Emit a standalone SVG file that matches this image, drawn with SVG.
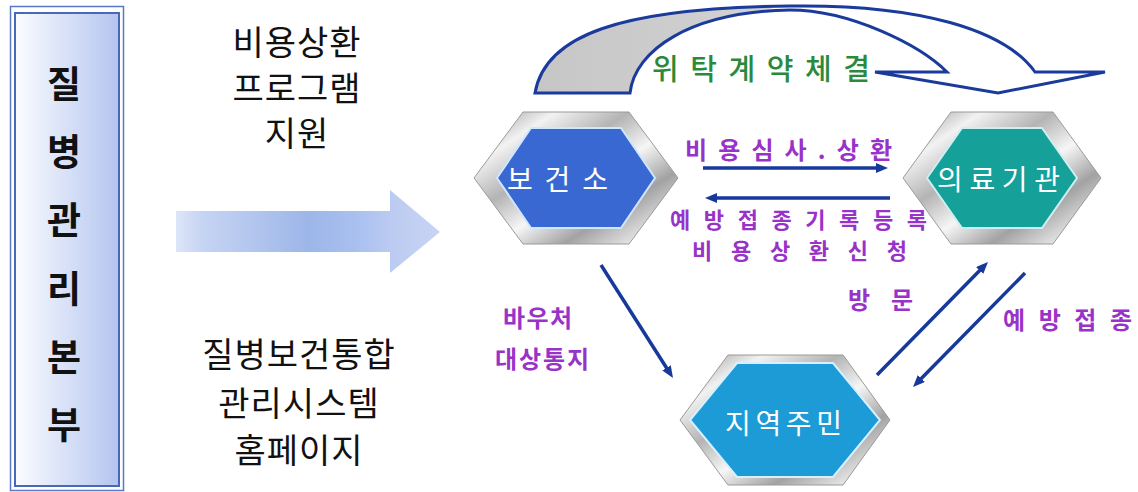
<svg xmlns="http://www.w3.org/2000/svg" width="1138" height="492" viewBox="0 0 1138 492">
<defs>
<linearGradient id="boxg" x1="0" y1="0" x2="1" y2="0">
<stop offset="0" stop-color="#fbfcff"/>
<stop offset="1" stop-color="#b3c5ef"/>
</linearGradient>
<linearGradient id="bigarrow" gradientUnits="userSpaceOnUse" x1="176" y1="0" x2="440" y2="0">
<stop offset="0" stop-color="#dde6f8"/>
<stop offset="0.1" stop-color="#c6d4f3"/>
<stop offset="0.5" stop-color="#9db6e9"/>
<stop offset="0.68" stop-color="#a9c0ef"/>
<stop offset="0.82" stop-color="#bccbf1"/>
<stop offset="1" stop-color="#c8d4f4"/>
</linearGradient>
<linearGradient id="curveg" gradientUnits="userSpaceOnUse" x1="535" y1="0" x2="1105" y2="0">
<stop offset="0" stop-color="#c6c6c6"/>
<stop offset="0.41" stop-color="#d2d2d2"/>
<stop offset="0.42" stop-color="#ffffff"/>
<stop offset="1" stop-color="#ffffff"/>
</linearGradient>
<linearGradient id="metal" x1="0" y1="0" x2="1" y2="1">
<stop offset="0" stop-color="#8e8e8e"/>
<stop offset="0.2" stop-color="#f2f2f2"/>
<stop offset="0.38" stop-color="#b4b4b4"/>
<stop offset="0.55" stop-color="#f6f6f6"/>
<stop offset="0.72" stop-color="#a2a2a2"/>
<stop offset="0.88" stop-color="#e4e4e4"/>
<stop offset="1" stop-color="#8a8a8a"/>
</linearGradient>
<marker id="ah" viewBox="0 0 12 10" refX="4" refY="5" markerWidth="12" markerHeight="10" markerUnits="userSpaceOnUse" orient="auto">
<path d="M0,0 L12,5 L0,10 Z" fill="#17399c"/>
</marker>
<style>
.kr{font-family:"Noto Sans CJK KR","Noto Sans",sans-serif;}
.side{font-size:37px;font-weight:700;fill:#111;text-anchor:middle;}
.big{font-size:34px;font-weight:400;fill:#111;text-anchor:middle;letter-spacing:1px;}
.lbl{font-size:24px;font-weight:700;fill:#9932c8;}
.node{font-size:28px;font-weight:400;fill:#ffffff;}
.conn{stroke:#17399c;stroke-width:3.5;fill:none;marker-end:url(#ah);}
.bezel{fill:url(#metal);stroke:#9a9a9a;stroke-width:1;}
</style>
</defs>
<rect width="1138" height="492" fill="#ffffff"/>

<g id="hq">
<rect x="10.5" y="6.5" width="113" height="484" fill="none" stroke="#5a78c8" stroke-width="1.5"/>
<rect x="15" y="13" width="104" height="473" fill="url(#boxg)" stroke="#4a68b8" stroke-width="2"/>
<g class="kr side" dominant-baseline="central">
<text x="64" y="82">질</text>
<text x="64" y="150">병</text>
<text x="64" y="218">관</text>
<text x="64" y="287">리</text>
<text x="64" y="355">본</text>
<text x="64" y="423">부</text>
</g>
</g>

<g id="program-label" class="kr big" dominant-baseline="central">
<text x="297" y="40">비용상환</text>
<text x="297" y="86">프로그램</text>
<text x="297" y="131">지원</text>
</g>

<g id="system-label" class="kr big" dominant-baseline="central">
<text x="299" y="352">질병보건통합</text>
<text x="299" y="401">관리시스템</text>
<text x="299" y="448">홈페이지</text>
</g>

<g id="big-arrow">
<path d="M176,211 L390,211 L390,190 L440,232 L390,273 L390,252 L176,252 Z" fill="url(#bigarrow)"/>
</g>

<g id="contract-arrow">
<path d="M535,93 C545,35 620,8 790,6 C920,4 1005,30 1035,72 L1105,72 L998,93 L875,72 L947,72 C920,45 850,10 790,10 C690,12 635,50 630,93 Z" fill="url(#curveg)" stroke="#1a3a9c" stroke-width="3" stroke-linejoin="miter"/>
<text class="kr" x="652" y="67" dominant-baseline="central" font-size="29" font-weight="500" fill="#2a8a3a" textLength="218" lengthAdjust="spacing">위탁계약체결</text>
</g>

<g id="bogeonso">
<polygon class="bezel" points="474,178 523,112 629,112 678,178 629,244 523,244"/>
<polygon points="497,178 531,128 621,128 655,178 621,228 531,228" fill="#3a68d2" stroke="#cfe6ff" stroke-width="2"/>
<text class="kr node" x="507" y="178" dominant-baseline="central" textLength="101" lengthAdjust="spacing">보건소</text>
</g>

<g id="medical">
<polygon class="bezel" points="903,178 951,112 1053,112 1101,178 1053,244 951,244"/>
<polygon points="927,178 962,128 1042,128 1077,178 1042,228 962,228" fill="#15a09a" stroke="#cfeef0" stroke-width="2"/>
<text class="kr node" x="937" y="178" dominant-baseline="central" textLength="123" lengthAdjust="spacing">의료기관</text>
</g>

<g id="residents">
<polygon class="bezel" points="680,420 728,355 843,355 890,420 843,485 728,485"/>
<polygon points="690,420 737,363 833,363 880,420 833,477 737,477" fill="#1c9bd6" stroke="#d6f0ff" stroke-width="2"/>
<text class="kr node" x="725" y="422" dominant-baseline="central" font-size="30" textLength="117" lengthAdjust="spacing">지역주민</text>
</g>

<g id="connectors">
<line class="conn" x1="703" y1="168" x2="880" y2="168"/>
<line class="conn" x1="890" y1="198" x2="713" y2="198"/>
<line class="conn" x1="601" y1="265" x2="668.7" y2="371.2"/>
<line class="conn" x1="877" y1="375" x2="982.4" y2="267.7"/>
<line class="conn" x1="1025" y1="273" x2="918.6" y2="381.3"/>
</g>

<g id="labels" class="kr lbl" dominant-baseline="central">
<text x="685" y="148" textLength="207" lengthAdjust="spacing">비용심사.상환</text>
<text x="670" y="218" font-size="22" textLength="257" lengthAdjust="spacing">예방접종기록등록</text>
<text x="692" y="249" font-size="22" textLength="215" lengthAdjust="spacing">비용상환신청</text>
<text x="503" y="316" textLength="69" lengthAdjust="spacing">바우처</text>
<text x="495" y="357" textLength="94" lengthAdjust="spacing">대상통지</text>
<text x="848" y="298" textLength="65" lengthAdjust="spacing">방 문</text>
<text x="1003" y="318" textLength="129" lengthAdjust="spacing">예방접종</text>
</g>
</svg>
